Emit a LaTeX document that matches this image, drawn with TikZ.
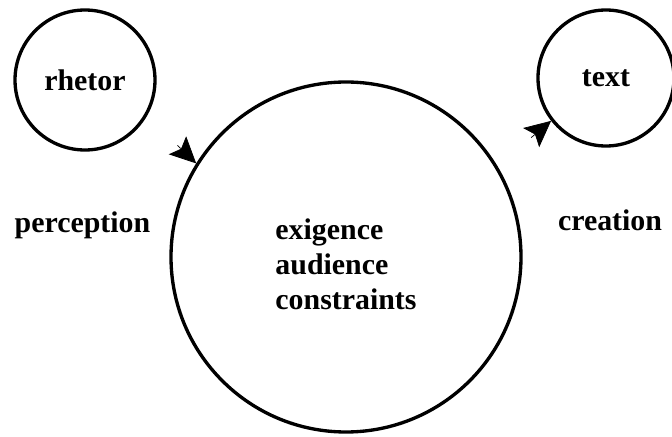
\documentclass[tikz,border=0pt]{standalone}
\usepackage{fontspec}
\setmainfont{Liberation Serif}
\usetikzlibrary{arrows.meta}
\begin{document}
\begin{tikzpicture}[
  bubble/.style={circle, draw, line width=1.9pt, inner sep=0pt},
  lbl/.style={font=\fontsize{17}{20}\selectfont\bfseries},
  tip/.style={-{Stealth[length=5.2mm, width=5mm, inset=1mm]}}
]
\useasboundingbox (0,0) rectangle (13.44,8.74);
\node[bubble, minimum size=2.8cm, lbl] (rhetor) at (1.70,7.14){rhetor};
\node[bubble, minimum size=2.72cm, lbl] (text) at (12.12,7.18){text};
\node[bubble, minimum size=7cm] (sit) at (6.92,3.60){};
\node[lbl, align=left] (facts) at (6.92,3.46){exigence\\audience\\constraints};
\node[lbl] (perc) at (1.65,4.24){perception};
\node[lbl] (crea) at (12.20,4.34){creation};
\coordinate (ptail) at ([shift={(136:5.2mm)}]sit.148);
\coordinate (ctail) at ([shift={(220:5.2mm)}]text.218);
\draw[tip] (ptail) -- (sit.148);
\draw[tip] (ctail) -- (text.218);
\end{tikzpicture}
\end{document}
